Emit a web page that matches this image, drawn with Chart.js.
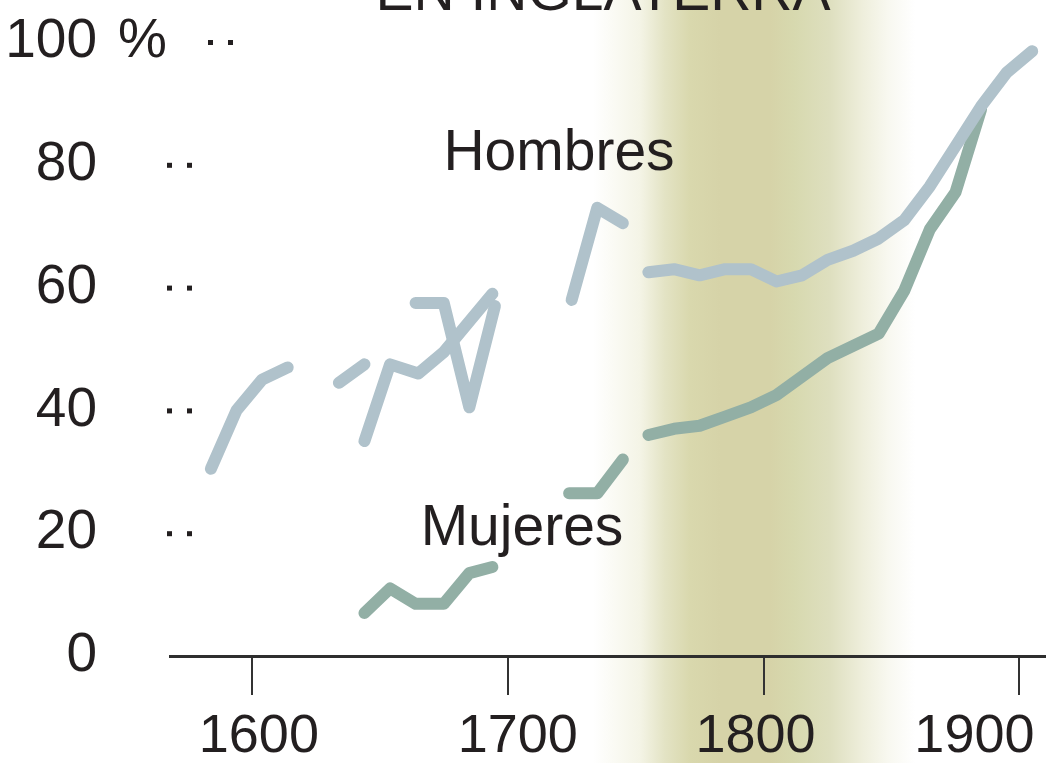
<!DOCTYPE html>
<html>
<head>
<meta charset="utf-8">
<script src="https://cdn.jsdelivr.net/npm/chart.js@4.4.0/dist/chart.umd.min.js"></script>
<style>
  html, body { margin: 0; padding: 0; background: #fff; }
  #wrap { width: 1056px; height: 763px; }
</style>
</head>
<body>
<div id="wrap"><canvas id="literacyChart" width="1056" height="763"></canvas></div>
<script>
// Alfabetización en Inglaterra (% que firma), null = hueco en la serie
const menYears = [1584, 1594, 1604, 1614, 1624, 1634, 1644, 1644, 1644, 1654, 1665, 1675, 1694, 1710,
                  1725, 1735, 1745, 1750, 1755, 1765, 1775, 1785, 1795, 1805, 1815, 1825, 1835, 1845,
                  1855, 1865, 1875, 1885, 1895, 1905];
const menPct = [30.5, 40, 45, 47, null, 44.5, 47.5, null, 35, 47.5, 46, 49.5, 59, null,
                58, 73, 70.5, null, 62.5, 63, 62, 63, 63, 61, 62, 64.5, 66, 68,
                71, 76.5, 83, 89.5, 95, 98.5];
// second (overlapping) men's series, late 17th century
const menAltYears = [1664, 1675, 1685, 1695];
const menAltPct = [57.5, 57.5, 40.5, 57];

const womenYears = [1644, 1654, 1664, 1675, 1685, 1694, 1710, 1724, 1735, 1745, 1750,
                    1755, 1765, 1775, 1785, 1795, 1805, 1815, 1825, 1835, 1845, 1855, 1865, 1875, 1885];
const womenPct = [7, 11, 8.5, 8.5, 13.5, 14.5, null, 26.5, 26.5, 32, null,
                  36, 37, 37.5, 39, 40.5, 42.5, 45.5, 48.5, 50.5, 52.5, 59.5, 69.5, 75.5, 89];

const xTicks = [1600, 1700, 1800, 1900];
const yTicks = [0, 20, 40, 60, 80, 100];

const FONT = '"Liberation Sans", Arial, Helvetica, sans-serif';
const INK = '#231f20';
const MEN_COLOR = '#b0c2cb';
const WOMEN_COLOR = '#92afa5';

function points(xs, ys) {
    return xs.map((x, i) => ({ x: x, y: ys[i] }));
}

// band + text decorations
const decorations = {
    id: 'decorations',
    beforeDraw(chart) {
        const ctx = chart.ctx;
        const a = 593, b = 915;
        const g = ctx.createLinearGradient(a, 0, b, 0);
        const stops = [
            [593, '#ffffff'], [640, '#f4f4e6'], [665, '#e3e3c4'], [690, '#d9d8ad'],
            [720, '#d6d3a8'], [770, '#d6d3a8'], [795, '#d7d9af'], [830, '#dedfbf'],
            [862, '#eeeedb'], [888, '#f8f8f0'], [915, '#ffffff']
        ];
        stops.forEach(s => g.addColorStop((s[0] - a) / (b - a), s[1]));
        ctx.save();
        ctx.fillStyle = g;
        ctx.fillRect(a, 0, b - a, chart.height);
        ctx.restore();
    },
    afterDraw(chart) {
        const ctx = chart.ctx;
        const xs = chart.scales.x;
        const ys = chart.scales.y;
        ctx.save();
        ctx.fillStyle = INK;

        // title, mostly cut off at the top
        ctx.font = '57px ' + FONT;
        ctx.textAlign = 'center';
        ctx.textBaseline = 'alphabetic';
        ctx.fillText('EN INGLATERRA', 603, 10);

        // series labels
        ctx.fillText('Hombres', 559, 170);
        ctx.fillText('Mujeres', 522, 545);

        // x labels
        const shift = [7, 10, -8, -45];
        ctx.font = '54px ' + FONT;
        xTicks.forEach((v, i) => {
            ctx.fillText(String(v), xs.getPixelForValue(v) + shift[i], 752);
        });

        // percent sign after 100
        ctx.textAlign = 'left';
        ctx.font = '55px ' + FONT;
        ctx.textBaseline = 'middle';
        ctx.fillText('%', 118, ys.getPixelForValue(100));

        // small leader dots
        yTicks.forEach(v => {
            if (v === 0) return;
            const py = ys.getPixelForValue(v);
            const x0 = v === 100 ? 208 : 167;
            ctx.fillRect(x0, py - 2, 5, 5);
            ctx.fillRect(x0 + 20, py - 2, 5, 5);
        });
        ctx.restore();
    }
};

const ctx = document.getElementById('literacyChart').getContext('2d');
const literacyChart = new Chart(ctx, {
    type: 'line',
    data: {
        datasets: [{
            label: 'Hombres',
            data: points(menYears, menPct),
            borderColor: MEN_COLOR,
            borderWidth: 12
        }, {
            label: 'Hombres (otra fuente)',
            data: points(menAltYears, menAltPct),
            borderColor: MEN_COLOR,
            borderWidth: 12
        }, {
            label: 'Mujeres',
            data: points(womenYears, womenPct),
            borderColor: WOMEN_COLOR,
            borderWidth: 12
        }]
    },
    options: {
        responsive: false,
        animation: false,
        devicePixelRatio: 1,
        spanGaps: false,
        elements: {
            point: { radius: 0, hoverRadius: 0 },
            line: { tension: 0, borderCapStyle: 'round', borderJoinStyle: 'round', fill: false }
        },
        layout: {
            padding: { top: 42, right: 11, left: 0, bottom: 0 }
        },
        plugins: {
            legend: { display: false },
            tooltip: { enabled: false }
        },
        scales: {
            x: {
                type: 'linear',
                min: 1568,
                max: 1910,
                afterBuildTicks: s => { s.ticks = xTicks.map(v => ({ value: v })); },
                afterFit: s => { s.height = 107; s.paddingLeft = 0; s.paddingRight = 0; },
                grid: {
                    display: true,
                    drawOnChartArea: false,
                    drawTicks: true,
                    tickLength: 39,
                    color: '#333333',
                    lineWidth: 2
                },
                border: { display: true, color: '#2e2e2e', width: 3 },
                ticks: { display: false }
            },
            y: {
                min: 0,
                max: 100,
                afterBuildTicks: s => { s.ticks = yTicks.map(v => ({ value: v })); },
                afterFit: s => { s.width = 170; s.paddingTop = 0; s.paddingBottom = 0; },
                grid: { display: false },
                border: { display: false },
                ticks: {
                    padding: 65,
                    color: INK,
                    font: { size: 55, family: FONT },
                    callback: v => String(v)
                }
            }
        }
    },
    plugins: [decorations]
});
</script>
</body>
</html>
